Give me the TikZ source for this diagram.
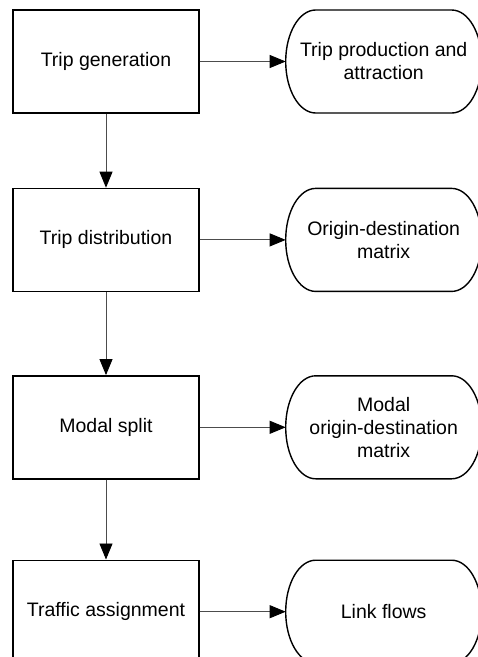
\documentclass[tikz,border=0pt]{standalone}
\usepackage{fontspec}
\setmainfont{Liberation Sans}
\usetikzlibrary{positioning,arrows.meta}

\begin{document}
\begin{tikzpicture}[x=1pt,y=1pt,
  stepbox/.style={rectangle, draw=black, line width=1.4pt, minimum width=186pt, minimum height=103pt, inner sep=0pt, font=\fontsize{19.5}{23}\selectfont},
  endnode/.style={rectangle, line width=1.4pt, outer sep=0pt, minimum width=196pt, minimum height=103pt, inner sep=0pt, align=center, font=\fontsize{19.5}{23}\selectfont},
  flow/.style={draw=black!70, line width=0.9pt, -{Triangle[length=16pt,width=13pt,color=black]}}]

        \useasboundingbox (0,0) rectangle (478,-657);
        \clip (0,0) rectangle (478,-657);

        % steps
        \node[stepbox] (1) at (106,-61.5) {Trip generation};
        \node[stepbox] (2) [below=74pt of 1] {Trip distribution};
        \node[stepbox] (3) [below=83pt of 2] {Modal split};
        \node[stepbox] (4) [below=80pt of 3] {Traffic assignment};

        % results
        \node[endnode] (5) [right=86pt of 1] {Trip production and\\attraction};
        \node[endnode] (6) [right=86pt of 2] {Origin-destination\\matrix};
        \node[endnode] (7) [right=86pt of 3] {Modal\\origin-destination\\matrix};
        \node[endnode] (8) [right=86pt of 4] {Link flows};

        \foreach \n in {5,6,7,8}
          \draw[line width=1.4pt] ([xshift=30pt]\n.north west) -- ([xshift=-30pt]\n.north east)
            arc[start angle=90, end angle=-90, x radius=30pt, y radius=51.5pt]
            -- ([xshift=30pt]\n.south west)
            arc[start angle=270, end angle=90, x radius=30pt, y radius=51.5pt] -- cycle;

        \draw[flow] (1) -- (2);
        \draw[flow] (2) -- (3);
        \draw[flow] (3) -- (4);
        \draw[flow] (1) -- (5);
        \draw[flow] (2) -- (6);
        \draw[flow] (3) -- (7);
        \draw[flow] (4) -- (8);

\end{tikzpicture}
\end{document}
